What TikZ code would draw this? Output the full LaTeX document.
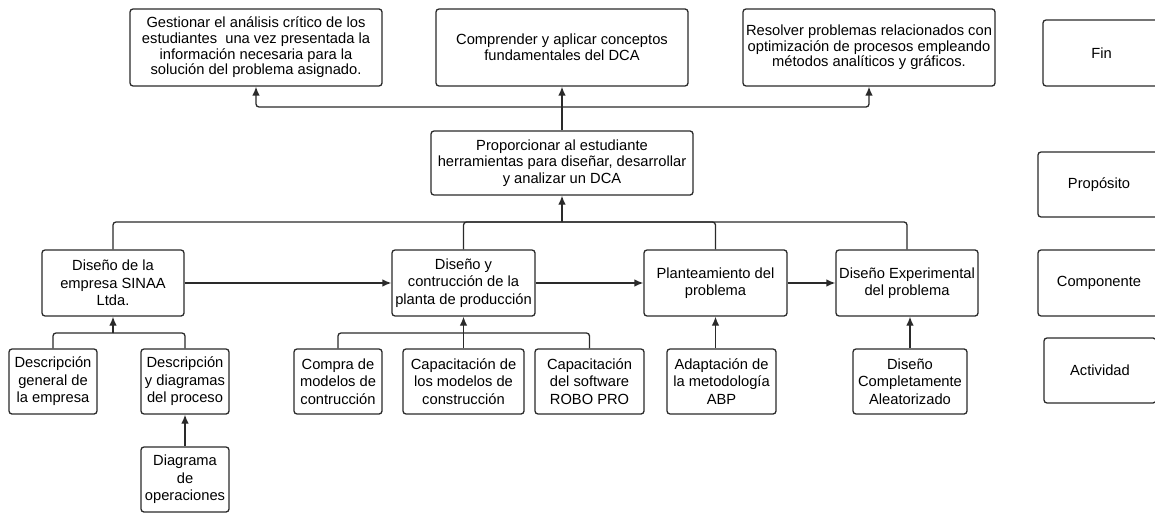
\documentclass[tikz,border=0pt]{standalone}
\usepackage{fontspec}
\setmainfont{Liberation Sans}
\usetikzlibrary{arrows.meta}
\definecolor{lc}{HTML}{2A2A2A}
\begin{document}
\begin{tikzpicture}[x=1pt,y=-1pt,
  box/.style={draw=lc, line width=1.3pt, rounded corners=3pt, align=center, inner sep=0pt,
    font=\fontsize{14.7}{17.5}\selectfont, text=black},
  topbox/.style={box, font=\fontsize{14.7}{15.7}\selectfont},
  midbox/.style={box, font=\fontsize{14.7}{16.2}\selectfont},
  ln/.style={draw=lc, line width=1.3pt, rounded corners=3pt},
  arr/.style={ln, -{Latex[length=9pt,width=7.5pt]}}]
\useasboundingbox (0,0) rectangle (1155,513);
\clip (0,0) rectangle (1155,513);
% Fin level
\node[topbox, minimum width=252pt, minimum height=77pt] (g1) at (256,47.5)
  {Gestionar el análisis crítico de los\\estudiantes~ una vez presentada la\\información necesaria para la\\solución del problema asignado.};
\node[topbox, minimum width=252pt, minimum height=77pt] (g2) at (562,47.5)
  {Comprender y aplicar conceptos\\fundamentales del DCA};
\node[topbox, minimum width=252pt, minimum height=77pt] (g3) at (869,47.5)
  {Resolver problemas relacionados con\\optimización de procesos empleando\\métodos analíticos y gráficos.};
% Purpose
\node[midbox, minimum width=262pt, minimum height=64pt] (p) at (562,163)
  {Proporcionar al estudiante\\herramientas para diseñar, desarrollar\\y analizar un DCA};
% Components
\node[box, minimum width=142pt, minimum height=66pt] (c1) at (113,283)
  {Diseño de la\\empresa SINAA\\Ltda.};
\node[box, minimum width=143pt, minimum height=66pt] (c2) at (463.5,283)
  {Diseño y\\contrucción de la\\planta de producción};
\node[box, minimum width=143pt, minimum height=66pt] (c3) at (715.5,283)
  {Planteamiento del\\problema};
\node[box, minimum width=142pt, minimum height=66pt] (c4) at (907,283)
  {Diseño Experimental\\del problema};
% Activities
\node[box, minimum width=88pt, minimum height=65pt] (a1) at (53,381.5)
  {Descripción\\general de\\la empresa};
\node[box, minimum width=88pt, minimum height=65pt] (a2) at (185,381.5)
  {Descripción\\y diagramas\\del proceso};
\node[box, minimum width=88pt, minimum height=65pt] (a3) at (185,479.5)
  {Diagrama\\de\\operaciones};
\node[box, minimum width=88pt, minimum height=65pt] (b1) at (338,381.5)
  {Compra de\\modelos de\\contrucción};
\node[box, minimum width=121pt, minimum height=65pt] (b2) at (463.5,381.5)
  {Capacitación de\\los modelos de\\construcción};
\node[box, minimum width=109pt, minimum height=65pt] (b3) at (589.5,381.5)
  {Capacitación\\del software\\ROBO PRO};
\node[box, minimum width=109pt, minimum height=65pt] (d1) at (721.5,381.5)
  {Adaptación de\\la metodología\\ABP};
\node[box, minimum width=114pt, minimum height=65pt] (e1) at (910,381.5)
  {Diseño\\Completamente\\Aleatorizado};
% Legend
\node[box, minimum width=117pt, minimum height=66pt] (fin) at (1101.5,53) {Fin};
\node[box, minimum width=122pt, minimum height=65pt] (prop) at (1099,184.5) {Propósito};
\node[box, minimum width=122pt, minimum height=66pt] (comp) at (1099,283) {Componente};
\node[box, minimum width=112pt, minimum height=65pt] (act) at (1100,370.5) {Actividad};
% Connectors top
\coordinate (tb) at (562,107);
\draw[arr] (p.north) -- (g2.south);
\draw[arr] (tb) -| (g1.south);
\draw[arr] (tb) -| (g3.south);
% Connectors middle bus
\coordinate (mb) at (562,222);
\draw[arr] (mb) -- (p.south);
\draw[ln] (c1.north) |- (mb);
\draw[ln] (c2.north) |- (mb);
\draw[ln] (c3.north) |- (mb);
\draw[ln] (c4.north) |- (mb);
% Component chain
\draw[arr] (c1) -- (c2);
\draw[arr] (c2) -- (c3);
\draw[arr] (c3) -- (c4);
% Activities to c1
\coordinate (lb1) at (113,333);
\draw[arr] (lb1) -- (c1.south);
\draw[ln] (a1.north) |- (lb1);
\draw[ln] (a2.north) |- (lb1);
\draw[arr] (a3.north) -- (a2.south);
% Activities to c2
\coordinate (lb2) at (463.5,333);
\draw[arr] (lb2) -- (c2.south);
\draw[ln] (b1.north) |- (lb2);
\draw[ln] (b3.north) |- (lb2);
\draw[ln] (b2.north) -- (lb2);
% Activities to c3, c4
\draw[arr] (c3.south |- d1.north) -- (c3.south);
\draw[arr] (e1.north) -- (e1.north |- c4.south);
\end{tikzpicture}
\end{document}
